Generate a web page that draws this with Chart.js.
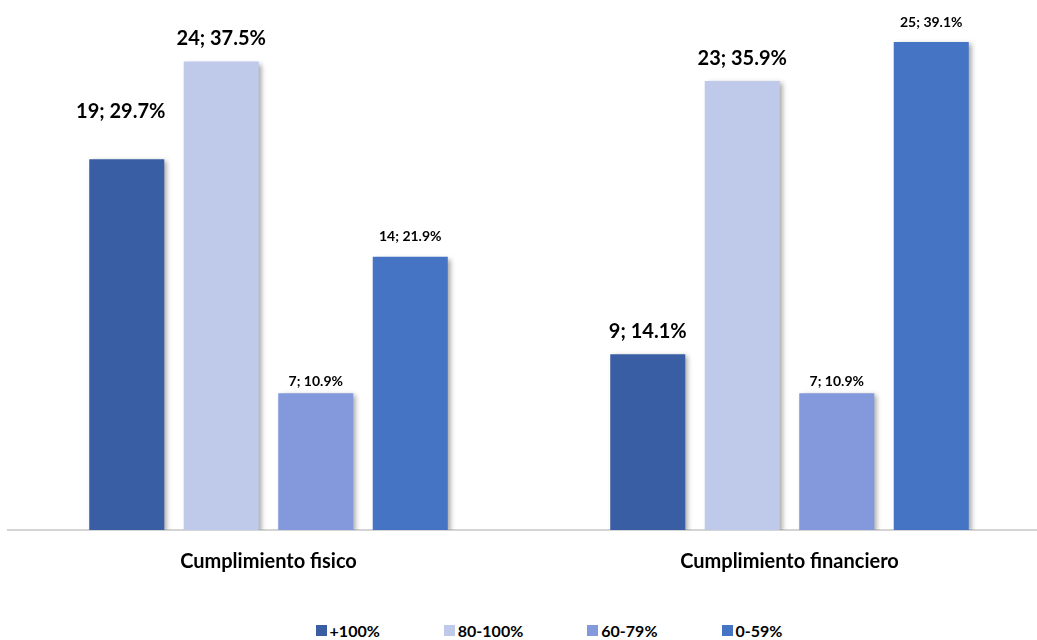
<!DOCTYPE html>
<html>
<head>
<meta charset="utf-8">
<script src="https://cdn.jsdelivr.net/npm/chart.js@4.4.0/dist/chart.umd.min.js"></script>
<style>
  html, body { margin: 0; padding: 0; background: #fff; width: 1037px; height: 640px; overflow: hidden; }
  #wrap { position: absolute; left: 0; top: 0; width: 1050px; height: 600px; }
  #legend { position: absolute; left: 249px; width: 600px; top: 621px; display: flex; justify-content: center;
            font: bold 16px Lato, sans-serif; color: #000; }
  #legend span.item { display: flex; align-items: center; margin: 0 32px; }
  #legend span.box { width: 11px; height: 11px; margin-right: 3px; display: inline-block; }
</style>
</head>
<body>
<div id="wrap"><canvas id="chart"></canvas></div>
<div id="legend"></div>
<script>
// categorias e series
const categorias = ['Cumplimiento fisico', 'Cumplimiento financiero']
const series = ['+100%', '80-100%', '60-79%', '0-59%']
const cantidad = [
  [19, 9],
  [24, 23],
  [7, 7],
  [14, 25]
]
const porcentaje = [
  [29.7, 14.1],
  [37.5, 35.9],
  [10.9, 10.9],
  [21.9, 39.1]
]

// estilos
const colores = ['#3a5ea3', '#bfcaeb', '#8399dc', '#4674c5']
const tamLetra = [[20, 20], [20, 20], [14, 14], [14, 14]]
const sobreBarra = [[48, 23], [23, 23], [12, 12], [20, 20]]
const corrX = [[-6, 0], [0, 0], [0, 0], [0, 0]]

const sombra = {
  id: 'sombra',
  beforeDatasetsDraw(chart) {
    const ctx = chart.ctx
    ctx.save()
    ctx.shadowColor = 'rgba(0,0,0,0.35)'
    ctx.shadowBlur = 5
    ctx.shadowOffsetX = 3
    ctx.shadowOffsetY = 2
  },
  afterDatasetsDraw(chart) {
    chart.ctx.restore()
  }
}

const etiquetas = {
  id: 'etiquetas',
  afterDraw(chart) {
    const ctx = chart.ctx
    ctx.save()
    ctx.fillStyle = '#000'
    ctx.textAlign = 'center'
    ctx.textBaseline = 'middle'
    chart.data.datasets.forEach((ds, i) => {
      chart.getDatasetMeta(i).data.forEach((bar, j) => {
        ctx.font = 'bold ' + tamLetra[i][j] + 'px Lato'
        const txt = cantidad[i][j] + '; ' + porcentaje[i][j].toFixed(1) + '%'
        ctx.fillText(txt, bar.x + corrX[i][j], bar.y - sobreBarra[i][j])
      })
    })
    ctx.restore()
  }
}

const leyendaHtml = {
  id: 'leyendaHtml',
  afterUpdate(chart) {
    const cont = document.getElementById('legend')
    cont.innerHTML = ''
    chart.data.datasets.forEach(ds => {
      const item = document.createElement('span')
      item.className = 'item'
      const box = document.createElement('span')
      box.className = 'box'
      box.style.background = ds.backgroundColor
      item.appendChild(box)
      item.appendChild(document.createTextNode(ds.label))
      cont.appendChild(item)
    })
  }
}

new Chart(document.getElementById('chart'), {
  type: 'bar',
  data: {
    labels: categorias,
    datasets: series.map((s, i) => ({
      label: s,
      data: cantidad[i],
      backgroundColor: colores[i],
      categoryPercentage: 0.7255,
      barPercentage: 0.794
    }))
  },
  options: {
    responsive: true,
    maintainAspectRatio: false,
    animation: false,
    layout: { padding: { left: 8, right: 0, top: 3, bottom: 6 } },
    plugins: {
      legend: { display: false },
      tooltip: { enabled: false }
    },
    scales: {
      x: {
        grid: { display: false, drawTicks: false },
        border: { display: true, color: '#d4d4d4', width: 2 },
        ticks: { padding: 20, color: '#000', font: { family: 'Lato', size: 20, weight: 'bold' } }
      },
      y: {
        display: false,
        min: 0,
        max: 27
      }
    }
  },
  plugins: [sombra, etiquetas, leyendaHtml]
})
</script>
</body>
</html>
